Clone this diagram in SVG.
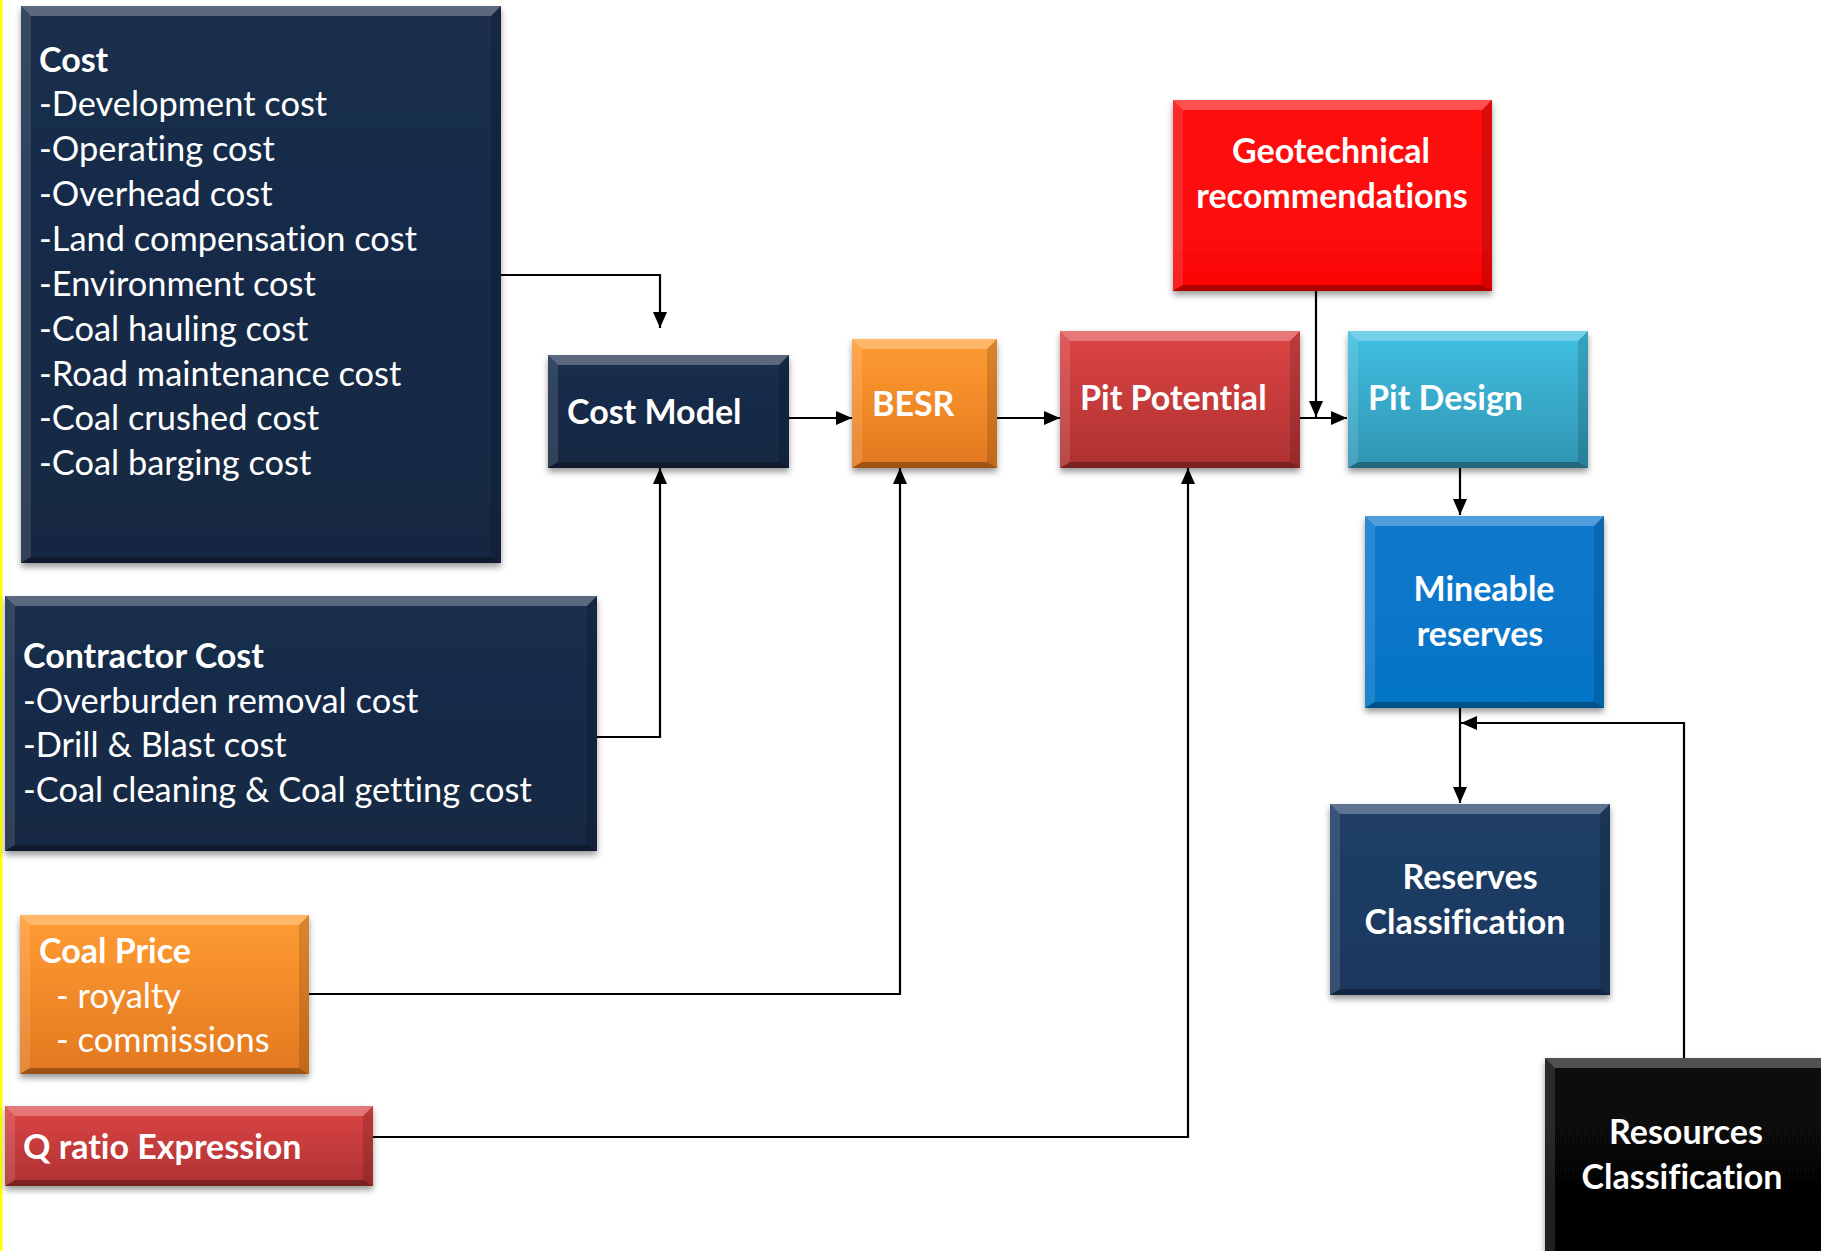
<svg xmlns="http://www.w3.org/2000/svg" width="1821" height="1251" viewBox="0 0 1821 1251">
<style>
  .t { font-family: Lato, "Open Sans", sans-serif; fill: #ffffff; font-size: 34.4px; font-variant-ligatures: none; font-feature-settings: "liga" 0, "clig" 0; }
  .b { font-weight: bold; font-size: 34px; }
  .c { text-anchor: middle; }
  .hi { fill: #ffffff; opacity: 0.28; }
  .hs { fill: #ffffff; opacity: 0.12; }
  .sh { fill: #000000; opacity: 0.14; }
  .lo { fill: #000000; opacity: 0.3; }
  .conn { fill: none; stroke: #000000; stroke-width: 2.2; }
</style>
<defs>
  <filter id="ds" x="-10%" y="-10%" width="120%" height="125%">
    <feDropShadow dx="0" dy="4" stdDeviation="3" flood-color="#000" flood-opacity="0.4"/>
  </filter>
  <linearGradient id="gNavy" x1="0" y1="0" x2="0" y2="1"><stop offset="0" stop-color="#1A2E4C"/><stop offset="1" stop-color="#152842"/></linearGradient>
  <linearGradient id="gNavy2" x1="0" y1="0" x2="0" y2="1"><stop offset="0" stop-color="#203E67"/><stop offset="1" stop-color="#1C385E"/></linearGradient>
  <linearGradient id="gOrange" x1="0" y1="0" x2="0" y2="1"><stop offset="0" stop-color="#FF9C33"/><stop offset="1" stop-color="#E3781F"/></linearGradient>
  <linearGradient id="gRed" x1="0" y1="0" x2="0" y2="1"><stop offset="0" stop-color="#DD4545"/><stop offset="1" stop-color="#AE3131"/></linearGradient>
  <linearGradient id="gGeo" x1="0" y1="0" x2="0" y2="1"><stop offset="0" stop-color="#FF0A0A"/><stop offset="1" stop-color="#FB0606"/></linearGradient>
  <linearGradient id="gCyan" x1="0" y1="0" x2="0" y2="1"><stop offset="0" stop-color="#40C0E2"/><stop offset="1" stop-color="#3194B2"/></linearGradient>
  <linearGradient id="gBlue" x1="0" y1="0" x2="0" y2="1"><stop offset="0" stop-color="#0879CE"/><stop offset="1" stop-color="#0674C6"/></linearGradient>
  <linearGradient id="gBlack" x1="0" y1="0" x2="0" y2="1"><stop offset="0" stop-color="#080808"/><stop offset="1" stop-color="#050505"/></linearGradient>
  <marker id="ah" viewBox="0 0 16 14" markerWidth="16" markerHeight="14" refX="16" refY="7" orient="auto" markerUnits="userSpaceOnUse">
    <path d="M0,0 L16,7 L0,14 z" fill="#000000"/>
  </marker>
</defs>

<rect x="0" y="0" width="1821" height="1251" fill="#ffffff"/>
<rect x="0" y="0" width="2.5" height="1251" fill="#FFFF00"/>

<g id="connectors">
  <path class="conn" d="M501,275 H660 V328" marker-end="url(#ah)"/>
  <path class="conn" d="M597,737 H660 V468" marker-end="url(#ah)"/>
  <path class="conn" d="M309,994 H900 V468" marker-end="url(#ah)"/>
  <path class="conn" d="M373,1137 H1188 V468" marker-end="url(#ah)"/>
  <path class="conn" d="M789,418 H852" marker-end="url(#ah)"/>
  <path class="conn" d="M997,418 H1060" marker-end="url(#ah)"/>
  <path class="conn" d="M1300,418 H1347" marker-end="url(#ah)"/>
  <path class="conn" d="M1316,291 V417" marker-end="url(#ah)"/>
  <path class="conn" d="M1460,468 V515" marker-end="url(#ah)"/>
  <path class="conn" d="M1460,708 V803" marker-end="url(#ah)"/>
  <path class="conn" d="M1684,1058 V723 H1461" marker-end="url(#ah)"/>
</g>

<g id="cost">
  <rect x="21" y="6" width="480" height="557" fill="url(#gNavy)" filter="url(#ds)"/>
  <polygon class="hi" points="21,6 501,6 491,16 31,16"/>
  <polygon class="hs" points="21,6 31,16 31,557 21,563"/>
  <polygon class="sh" points="501,6 501,563 491,557 491,16"/>
  <polygon class="lo" points="21,563 501,563 491,557 31,557"/>
  <text class="t b" x="39" y="72">Cost</text>
  <text class="t" x="39" y="116">-Development cost</text>
  <text class="t" x="39" y="161">-Operating cost</text>
  <text class="t" x="39" y="206">-Overhead cost</text>
  <text class="t" x="39" y="251">-Land compensation cost</text>
  <text class="t" x="39" y="296">-Environment cost</text>
  <text class="t" x="39" y="341">-Coal hauling cost</text>
  <text class="t" x="39" y="386">-Road maintenance cost</text>
  <text class="t" x="39" y="430">-Coal crushed cost</text>
  <text class="t" x="39" y="475">-Coal barging cost</text>
</g>

<g id="contractor-cost">
  <rect x="5" y="596" width="592" height="255" fill="url(#gNavy)" filter="url(#ds)"/>
  <polygon class="hi" points="5,596 597,596 587,606 15,606"/>
  <polygon class="hs" points="5,596 15,606 15,845 5,851"/>
  <polygon class="sh" points="597,596 597,851 587,845 587,606"/>
  <polygon class="lo" points="5,851 597,851 587,845 15,845"/>
  <text class="t b" x="23" y="668">Contractor Cost</text>
  <text class="t" x="23" y="713">-Overburden removal cost</text>
  <text class="t" x="23" y="757">-Drill &amp; Blast cost</text>
  <text class="t" x="23" y="802">-Coal cleaning &amp; Coal getting cost</text>
</g>

<g id="coal-price">
  <rect x="20" y="915" width="289" height="159" fill="url(#gOrange)" filter="url(#ds)"/>
  <polygon class="hi" points="20,915 309,915 299,925 30,925"/>
  <polygon class="hs" points="20,915 30,925 30,1068 20,1074"/>
  <polygon class="sh" points="309,915 309,1074 299,1068 299,925"/>
  <polygon class="lo" points="20,1074 309,1074 299,1068 30,1068"/>
  <text class="t b" x="39" y="963">Coal Price</text>
  <text class="t" x="56" y="1008">- royalty</text>
  <text class="t" x="56" y="1052">- commissions</text>
</g>

<g id="q-ratio">
  <rect x="5" y="1106" width="368" height="80" fill="url(#gRed)" filter="url(#ds)"/>
  <polygon class="hi" points="5,1106 373,1106 363,1116 15,1116"/>
  <polygon class="hs" points="5,1106 15,1116 15,1180 5,1186"/>
  <polygon class="sh" points="373,1106 373,1186 363,1180 363,1116"/>
  <polygon class="lo" points="5,1186 373,1186 363,1180 15,1180"/>
  <text class="t b" x="23" y="1159">Q ratio Expression</text>
</g>

<g id="cost-model">
  <rect x="548" y="355" width="241" height="113" fill="url(#gNavy)" filter="url(#ds)"/>
  <polygon class="hi" points="548,355 789,355 779,365 558,365"/>
  <polygon class="hs" points="548,355 558,365 558,462 548,468"/>
  <polygon class="sh" points="789,355 789,468 779,462 779,365"/>
  <polygon class="lo" points="548,468 789,468 779,462 558,462"/>
  <text class="t b" x="567" y="424">Cost Model</text>
</g>

<g id="besr">
  <rect x="852" y="339" width="145" height="129" fill="url(#gOrange)" filter="url(#ds)"/>
  <polygon class="hi" points="852,339 997,339 987,349 862,349"/>
  <polygon class="hs" points="852,339 862,349 862,462 852,468"/>
  <polygon class="sh" points="997,339 997,468 987,462 987,349"/>
  <polygon class="lo" points="852,468 997,468 987,462 862,462"/>
  <text class="t b" x="872" y="416">BESR</text>
</g>

<g id="pit-potential">
  <rect x="1060" y="331" width="240" height="137" fill="url(#gRed)" filter="url(#ds)"/>
  <polygon class="hi" points="1060,331 1300,331 1290,341 1070,341"/>
  <polygon class="hs" points="1060,331 1070,341 1070,462 1060,468"/>
  <polygon class="sh" points="1300,331 1300,468 1290,462 1290,341"/>
  <polygon class="lo" points="1060,468 1300,468 1290,462 1070,462"/>
  <text class="t b" x="1080" y="410">Pit Potential</text>
</g>

<g id="geotechnical">
  <rect x="1173" y="100" width="319" height="191" fill="url(#gGeo)" filter="url(#ds)"/>
  <polygon class="hi" points="1173,100 1492,100 1482,110 1183,110"/>
  <polygon class="hs" points="1173,100 1183,110 1183,285 1173,291"/>
  <polygon class="sh" points="1492,100 1492,291 1482,285 1482,110"/>
  <polygon class="lo" points="1173,291 1492,291 1482,285 1183,285"/>
  <text class="t b c" x="1331" y="163">Geotechnical</text>
  <text class="t b c" x="1332" y="208">recommendations</text>
</g>

<g id="pit-design">
  <rect x="1348" y="331" width="240" height="137" fill="url(#gCyan)" filter="url(#ds)"/>
  <polygon class="hi" points="1348,331 1588,331 1578,341 1358,341"/>
  <polygon class="hs" points="1348,331 1358,341 1358,462 1348,468"/>
  <polygon class="sh" points="1588,331 1588,468 1578,462 1578,341"/>
  <polygon class="lo" points="1348,468 1588,468 1578,462 1358,462"/>
  <text class="t b" x="1368" y="410">Pit Design</text>
</g>

<g id="mineable-reserves">
  <rect x="1365" y="516" width="239" height="192" fill="url(#gBlue)" filter="url(#ds)"/>
  <polygon class="hi" points="1365,516 1604,516 1594,526 1375,526"/>
  <polygon class="hs" points="1365,516 1375,526 1375,702 1365,708"/>
  <polygon class="sh" points="1604,516 1604,708 1594,702 1594,526"/>
  <polygon class="lo" points="1365,708 1604,708 1594,702 1375,702"/>
  <text class="t b c" x="1484" y="601">Mineable</text>
  <text class="t b c" x="1480" y="646">reserves</text>
</g>

<g id="reserves-classification">
  <rect x="1330" y="804" width="280" height="191" fill="url(#gNavy2)" filter="url(#ds)"/>
  <polygon class="hi" points="1330,804 1610,804 1600,814 1340,814"/>
  <polygon class="hs" points="1330,804 1340,814 1340,989 1330,995"/>
  <polygon class="sh" points="1610,804 1610,995 1600,989 1600,814"/>
  <polygon class="lo" points="1330,995 1610,995 1600,989 1340,989"/>
  <text class="t b c" x="1470" y="889">Reserves</text>
  <text class="t b c" x="1465" y="934">Classification</text>
</g>

<g id="resources-classification">
  <rect x="1545" y="1058" width="290" height="200" fill="url(#gBlack)" filter="url(#ds)"/>
  <polygon class="hi" points="1545,1058 1835,1058 1825,1068 1555,1068"/>
  <polygon class="hs" points="1545,1058 1555,1068 1555,1258 1545,1258"/>
  <text class="t b c" x="1686" y="1144">Resources</text>
  <text class="t b c" x="1682" y="1189">Classification</text>
</g>
</svg>
